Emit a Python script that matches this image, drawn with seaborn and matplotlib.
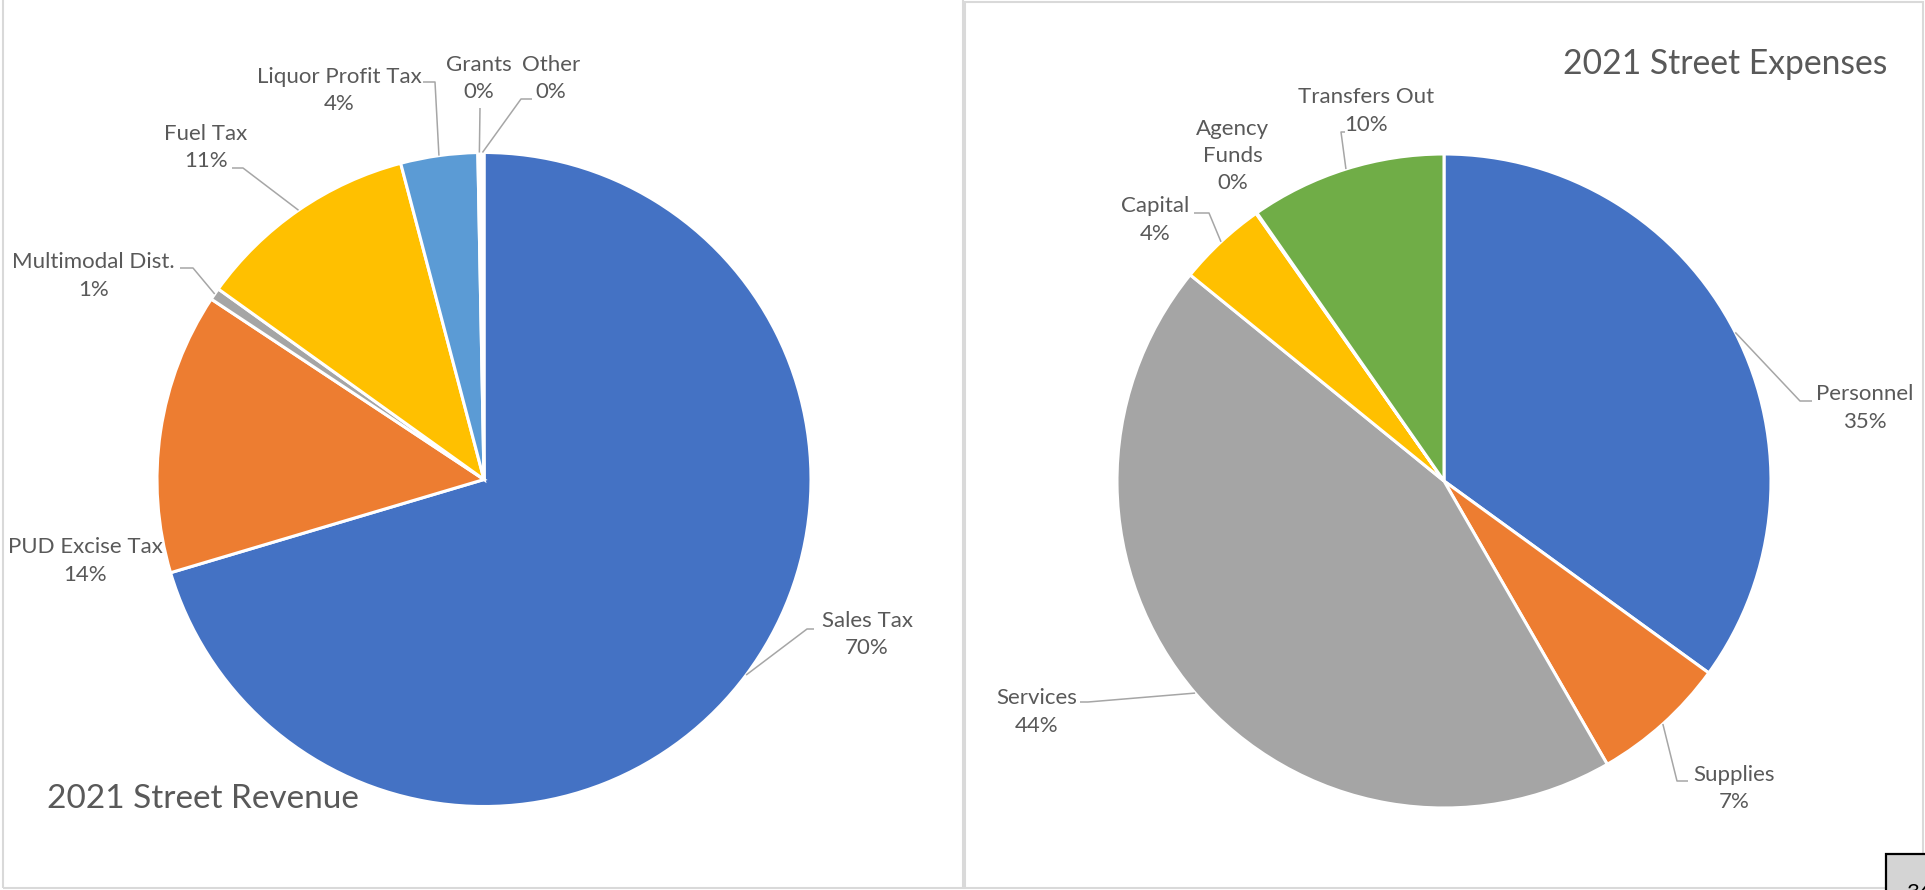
import matplotlib
matplotlib.use("Agg")
import matplotlib.pyplot as plt
import seaborn as sns
import numpy as np
from matplotlib.patches import Rectangle

# ---- data -------------------------------------------------------------
revenue_labels = ["Sales Tax", "PUD Excise Tax", "Multimodal Dist.", "Fuel Tax",
                  "Liquor Profit Tax", "Grants", "Other"]
revenue_values = [70.4, 13.9, 0.6, 11.0, 3.8, 0.15, 0.15]

expense_labels = ["Personnel", "Supplies", "Services", "Capital",
                  "Agency\nFunds", "Transfers Out"]
expense_values = [35.0, 6.7, 44.2, 4.4, 0.05, 9.7]

revenue_title = "2021 Street Revenue"
expense_title = "2021 Street Expenses"
page_number = "36"

# ---- style ------------------------------------------------------------
sns.set_theme(style="white")
plt.rcParams["font.family"] = ["Lato", "DejaVu Sans"]

office = {"blue": "#4472C4", "orange": "#ED7D31", "gray": "#A5A5A5",
          "gold": "#FFC000", "sky": "#5B9BD5", "green": "#70AD47",
          "navy": "#264478"}
revenue_colors = [office[k] for k in ["blue", "orange", "gray", "gold", "sky", "green", "navy"]]
expense_colors = [office[k] for k in ["blue", "orange", "gray", "gold", "sky", "green"]]

TEXT = "#595959"
LEADER = "#A6A6A6"
W, H = 1925, 890

fig = plt.figure(figsize=(W / 100, H / 100), dpi=100)
fig.patch.set_facecolor("white")
ax = fig.add_axes([0, 0, 1, 1])


def up(y):
    """Convert a top-down pixel row to the axes' bottom-up coordinate."""
    return H - y


def draw_pie(values, labels, colors, center, radius, layout):
    wedges, _ = ax.pie(values, colors=colors, startangle=90, counterclock=False,
                       center=center, radius=radius, frame=True,
                       wedgeprops=dict(edgecolor="white", linewidth=2.2))
    for wedge, lab, val, spec in zip(wedges, labels, values, layout):
        text = f"{lab}\n{val:.0f}%"
        tx, ty = spec["text"]
        ax.text(tx, up(ty), text, ha="center", va="center", fontsize=16,
                color=TEXT, linespacing=1.46)
        path = spec.get("leader")
        if path:
            mid = np.deg2rad((wedge.theta1 + wedge.theta2) / 2)
            xs = [center[0] + radius * np.cos(mid)] + [p[0] for p in path]
            ys = [center[1] + radius * np.sin(mid)] + [up(p[1]) for p in path]
            ax.plot(xs, ys, color=LEADER, lw=1.1, solid_capstyle="butt")


revenue_layout = [
    {"text": (867, 634.5), "leader": [(807, 629), (814, 629)]},
    {"text": (85, 561)},
    {"text": (93.5, 276), "leader": [(193, 268), (180, 268)]},
    {"text": (206, 147.5), "leader": [(243, 168), (232, 168)]},
    {"text": (339, 90.5), "leader": [(435, 82), (423, 82)]},
    {"text": (479, 78.5), "leader": [(480, 108)]},
    {"text": (551, 78.5), "leader": [(521, 99), (532, 99)]},
]

expense_layout = [
    {"text": (1865, 408), "leader": [(1800, 401), (1812, 401)]},
    {"text": (1734, 788.5), "leader": [(1677, 781), (1688, 781)]},
    {"text": (1037, 712), "leader": [(1088, 702), (1080, 702)]},
    {"text": (1155, 220), "leader": [(1209, 213), (1194, 213)]},
    {"text": (1233, 156)},
    {"text": (1366, 111), "leader": [(1341, 132), (1345, 132)]},
]

draw_pie(revenue_values, revenue_labels, revenue_colors, (484, up(479.5)), 327, revenue_layout)
draw_pie(expense_values, expense_labels, expense_colors, (1444, up(481)), 327, expense_layout)

# chart titles
ax.text(47, up(799), revenue_title, ha="left", va="center", fontsize=24,
        color=TEXT)
ax.text(1887, up(64), expense_title, ha="right", va="center", fontsize=24.2,
        color=TEXT)

# panel frames
ax.add_patch(Rectangle((3, up(888)), 960, 900, fill=False, edgecolor="#D9D9D9", lw=1.5))
ax.add_patch(Rectangle((965, up(888)), 958, 886, fill=False, edgecolor="#D9D9D9", lw=1.5))

# page-number tab in the corner
ax.add_patch(Rectangle((1886, -30), 80, 30 + up(854), facecolor="#D4D4D4",
                       edgecolor="black", lw=1.6, clip_on=False))
ax.text(1906, up(883), page_number, ha="left", va="top", fontsize=16, color="black")

ax.set_xlim(0, W)
ax.set_ylim(0, H)
ax.set_aspect("auto")
ax.set_axis_off()

fig.savefig("out.png", dpi=100, facecolor="white")
